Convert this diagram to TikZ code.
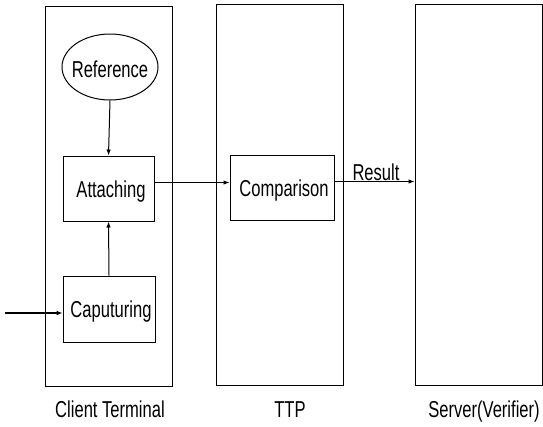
\documentclass[tikz,border=0pt]{standalone}
\usepackage{fontspec}
\setmainfont{Liberation Sans}
\usetikzlibrary{shapes.geometric,arrows.meta}
\newcommand\sq[1]{\scalebox{0.72}[1]{#1}}
\tikzset{
  lane/.style={draw,line width=1pt,rectangle,inner sep=0pt},
  proc/.style={draw,line width=1pt,rectangle,inner sep=0pt},
  oval/.style={draw,line width=1pt,ellipse,inner sep=0pt},
  txt/.style={font=\fontsize{23}{23}\selectfont,inner sep=0pt},
  arr/.style={line width=1pt,-{Latex[length=6pt,width=4.5pt]}},
  thickarr/.style={line width=1.8pt,-{Latex[length=6pt,width=5pt]}}
}
\begin{document}
\begin{tikzpicture}[x=1pt,y=-1pt]
\useasboundingbox (0,0) rectangle (543,426);
% lanes
\node[lane,minimum width=127pt,minimum height=380pt] (client) at (108.5,196) {};
\node[lane,minimum width=127pt,minimum height=381pt] (ttp) at (279.5,194.5) {};
\node[lane,minimum width=127pt,minimum height=381pt] (server) at (478.5,194.5) {};
% process nodes
\node[oval,minimum width=96pt,minimum height=66pt] (ref) at (110,67) {};
\node[txt,anchor=base] at (110,77) {\sq{Reference}};
\node[proc,minimum width=91pt,minimum height=65pt] (att) at (108.5,188.5) {};
\node[txt,anchor=base] at (111,197) {\sq{Attaching}};
\node[proc,minimum width=92pt,minimum height=66pt] (cap) at (109,309) {};
\node[txt,anchor=base] at (111,317) {\sq{Caputuring}};
\node[proc,minimum width=104pt,minimum height=65pt] (cmp) at (282,187.5) {};
\node[txt,anchor=base] at (284,196) {\sq{Comparison}};
% lane labels
\node[txt,anchor=base] (lc) at (110,417) {\sq{Client Terminal}};
\node[txt,anchor=base] (lt) at (290,417) {\sq{TTP}};
\node[txt,anchor=base] (ls) at (484,417) {\sq{Server(Verifier)}};
% connectors
\coordinate (in) at (5,313);
\draw[thickarr] (in) -- (in -| cap.west);
\draw[arr] (ref.south) -- (att.north);
\draw[arr] (cap.north) -- (att.south);
\draw[arr] ([yshift=6pt]att.east) -- ([yshift=6pt]att.east -| cmp.west);
\draw[arr] ([yshift=6pt]cmp.east) -- ([yshift=6pt]cmp.east -| server.west);
\node[txt,anchor=base] (res) at (376,180) {\sq{Result}};
\end{tikzpicture}
\end{document}
